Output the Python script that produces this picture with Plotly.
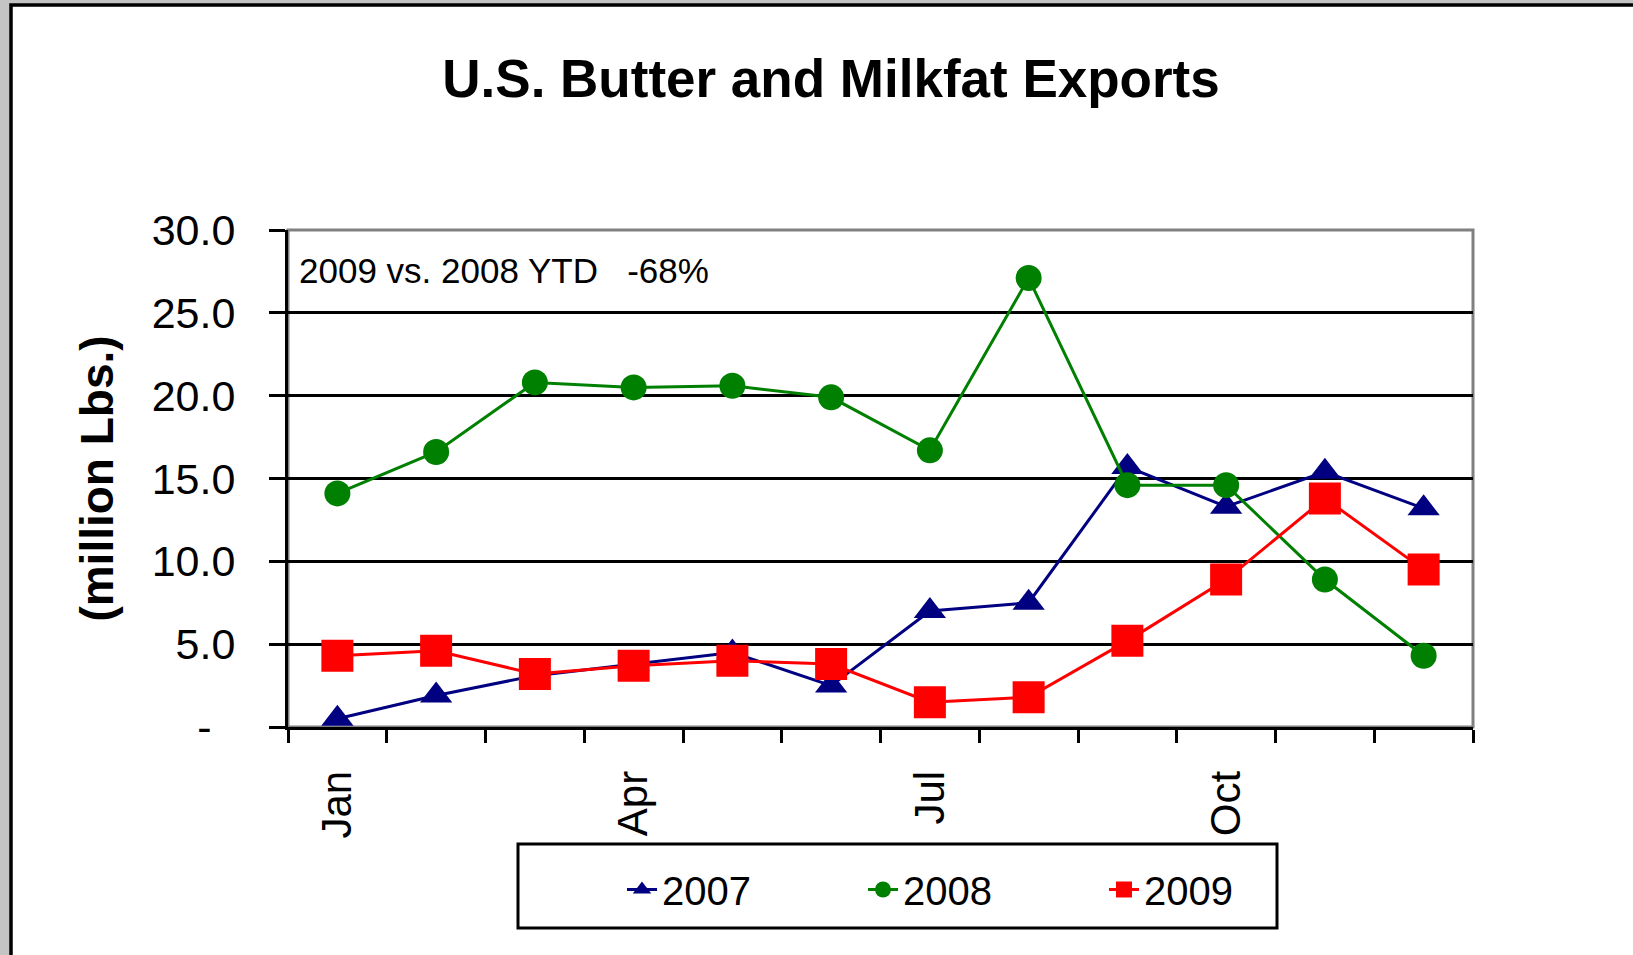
import plotly.graph_objects as go

# ---- data ----
months = ["Jan", "Feb", "Mar", "Apr", "May", "Jun", "Jul", "Aug", "Sep", "Oct", "Nov", "Dec"]
month_labels = ["Jan", "", "", "Apr", "", "", "Jul", "", "", "Oct", "", ""]
exports_2007 = [0.5, 1.9, 3.1, 3.8, 4.5, 2.5, 7.0, 7.5, 15.7, 13.3, 15.4, 13.2]
exports_2008 = [14.1, 16.6, 20.8, 20.5, 20.6, 19.9, 16.7, 27.1, 14.6, 14.6, 8.9, 4.3]
exports_2009 = [4.3, 4.6, 3.2, 3.7, 4.0, 3.8, 1.5, 1.8, 5.2, 8.9, 13.8, 9.5]
y_ticks = [0, 5, 10, 15, 20, 25, 30]
y_tick_labels = ["-\u00a0\u00a0", "5.0", "10.0", "15.0", "20.0", "25.0", "30.0"]

FONT = "Liberation Sans, Arial, sans-serif"
W, H = 1633, 955
L, R, T, B = 288, 160, 230, 228
PW, PH = W - L - R, H - T - B


def px_x(p):
    return (p - L) / PW


def px_y(p):
    return (H - B - p) / PH


fig = go.Figure()
fig.add_trace(go.Scatter(
    x=months, y=exports_2007, name="2007", mode="lines+markers",
    line=dict(color="#000080", width=3),
    marker=dict(symbol="triangle-up", size=28, color="#000080"),
))
fig.add_trace(go.Scatter(
    x=months, y=exports_2008, name="2008", mode="lines+markers",
    line=dict(color="#008000", width=3),
    marker=dict(symbol="circle", size=26, color="#008000"),
))
fig.add_trace(go.Scatter(
    x=months, y=exports_2009, name="2009", mode="lines+markers",
    line=dict(color="#FF0000", width=3),
    marker=dict(symbol="square", size=32, color="#FF0000"),
))

shapes = [
    # page frame
    dict(type="rect", xref="paper", yref="paper",
         x0=px_x(11), x1=px_x(1750), y0=px_y(5), y1=px_y(1100),
         line=dict(color="black", width=3.5), fillcolor="white", layer="below"),
    # plot area border (gray)
    dict(type="rect", xref="paper", yref="paper", x0=0, x1=1, y0=0, y1=1,
         line=dict(color="#808080", width=3), layer="below"),
    # legend box
    dict(type="rect", xref="paper", yref="paper",
         x0=px_x(518), x1=px_x(1277), y0=px_y(928), y1=px_y(844),
         line=dict(color="black", width=3), fillcolor="rgba(0,0,0,0)", layer="above"),
]

fig.update_layout(
    width=W, height=H,
    margin=dict(l=L, r=R, t=T, b=B),
    paper_bgcolor="#c4c4c4",
    plot_bgcolor="rgba(0,0,0,0)",
    font=dict(family=FONT, color="black"),
    shapes=shapes,
    title=dict(text="<b>U.S. Butter and Milkfat Exports</b>", xref="container", yref="container",
               x=831 / W, xanchor="center", y=1 - 78 / H, yanchor="middle",
               font=dict(family=FONT, size=53, color="black")),
    showlegend=True,
    legend=dict(orientation="h", x=px_x(622), xanchor="left", y=px_y(889.5), yanchor="middle",
                entrywidth=196, entrywidthmode="pixels",
                font=dict(family=FONT, size=40, color="black"),
                bgcolor="rgba(0,0,0,0)", borderwidth=0),
    annotations=[dict(text="2009 vs. 2008 YTD \u00a0\u00a0-68%", xref="paper", yref="paper",
                      x=px_x(297), y=px_y(270), xanchor="left", yanchor="middle",
                      showarrow=False, font=dict(family=FONT, size=35, color="black"))],
)

fig.update_xaxes(
    type="category", categoryorder="array", categoryarray=months,
    tickmode="array", tickvals=months, ticktext=month_labels,
    tickson="boundaries", ticks="outside", ticklen=13, tickwidth=3, tickcolor="black",
    showline=True, linecolor="black", linewidth=3, showgrid=False,
    tickangle=-90, tickfont=dict(family=FONT, size=42, color="black"),
    range=[-0.5, 11.5], ticklabelstandoff=24,
)
fig.update_yaxes(
    range=[0, 30], tickmode="array", tickvals=y_ticks, ticktext=y_tick_labels,
    ticks="outside", ticklen=16, tickwidth=3, tickcolor="black",
    showline=True, linecolor="black", linewidth=3,
    showgrid=True, gridcolor="black", gridwidth=3, zeroline=False,
    tickfont=dict(family=FONT, size=43, color="black"), ticklabelstandoff=25,
    title=dict(text="<b>(million Lbs.)</b>", font=dict(family=FONT, size=46, color="black"),
               standoff=24),
)

fig.write_html("out.html", config={"displayModeBar": False},
               post_script="document.body.style.margin='0';")
